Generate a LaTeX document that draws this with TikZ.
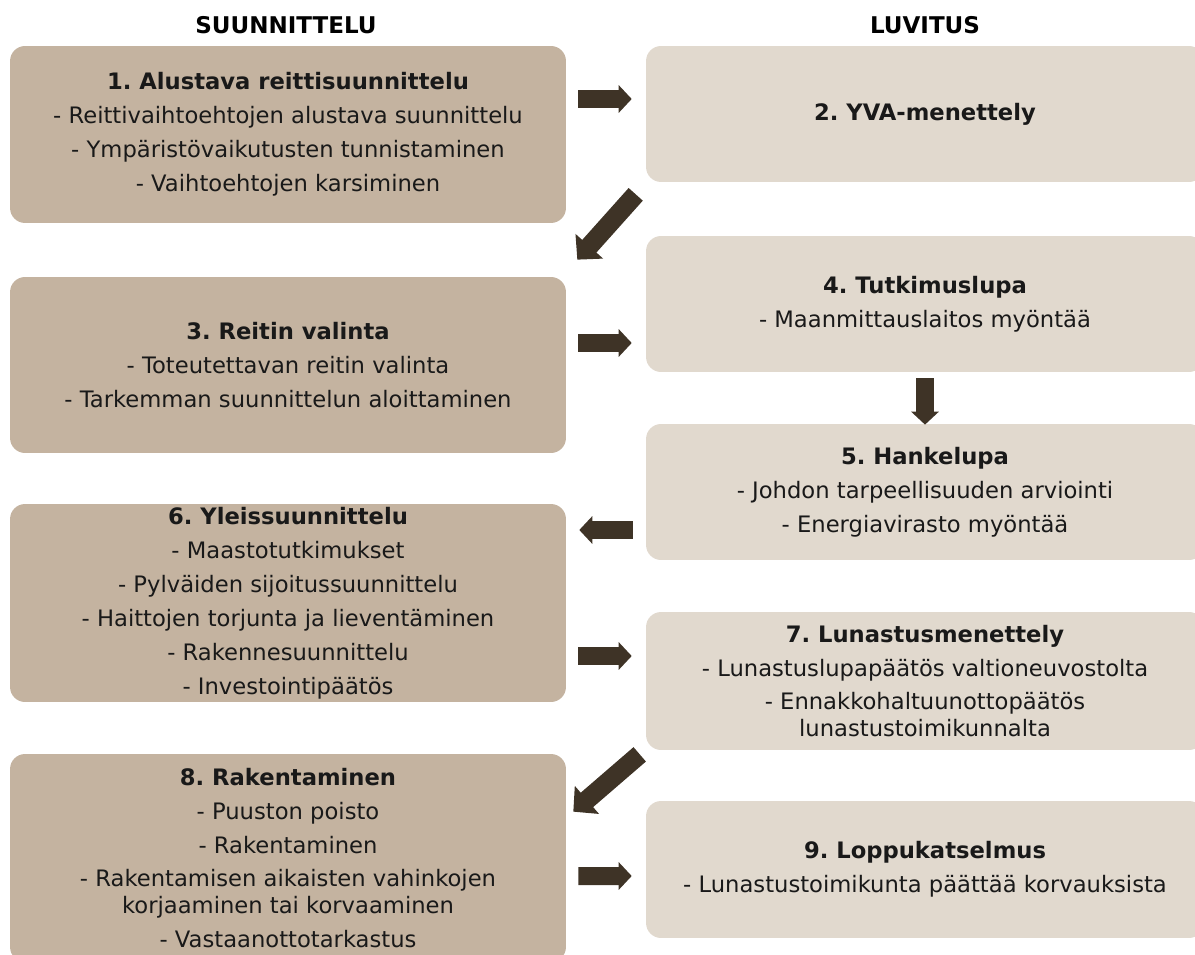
\documentclass[tikz,border=0pt]{standalone}
\usepackage{fontspec}
\setmainfont{DejaVu Sans}
\usetikzlibrary{arrows.meta,calc}
\definecolor{planbox}{HTML}{C4B3A0}
\definecolor{permitbox}{HTML}{E1D9CE}
\definecolor{arrowbrown}{HTML}{3E3326}
\frenchspacing

\begin{document}
\begin{tikzpicture}[x=0.02cm, y=-0.02cm,
	every box/.style={rounded corners=0.3cm, align=center, inner sep=0pt, text=black!90, font=\fontsize{12.9}{15.3}\selectfont},
	plan box/.style={every box, fill=planbox, minimum width=11.12cm},
	permit box/.style={every box, fill=permitbox, minimum width=11.16cm, minimum height=2.72cm},
	step arrow/.style={draw=arrowbrown, line width=0.36cm, -{Triangle[length=0.26cm, width=0.54cm]}},
	turn arrow/.style={draw=arrowbrown, line width=0.38cm, -{Triangle[length=0.36cm, width=0.72cm]}},
	column title/.style={font=\fontsize{13.1}{15}\selectfont\bfseries}]
		
		\useasboundingbox (0,0) rectangle (1195,955);
		\clip (0,0) rectangle (1195,955);
		
		\node [column title] (title-plan) at (286,25) {SUUNNITTELU};
		\node [column title] (title-permit) at (925,25) {LUVITUS};
		
		% suunnittelu
		\node [plan box, minimum height=3.54cm] (plan-1) at (288,134.5)
		{\textbf{1. Alustava reittisuunnittelu}\\[4pt]
			- Reittivaihtoehtojen alustava suunnittelu\\[4pt]
			- Ympäristövaikutusten tunnistaminen\\[4pt]
			- Vaihtoehtojen karsiminen};
		\node [plan box, minimum height=3.52cm] (plan-3) at (288,365)
		{\textbf{3. Reitin valinta}\\[4pt]
			- Toteutettavan reitin valinta\\[4pt]
			- Tarkemman suunnittelun aloittaminen};
		\node [plan box, minimum height=3.96cm] (plan-6) at (288,603)
		{\textbf{6. Yleissuunnittelu}\\[4pt]
			- Maastotutkimukset\\[4pt]
			- Pylväiden sijoitussuunnittelu\\[4pt]
			- Haittojen torjunta ja lieventäminen\\[4pt]
			- Rakennesuunnittelu\\[4pt]
			- Investointipäätös};
		\node [plan box, minimum height=4.16cm] (plan-8) at (288,858)
		{\textbf{8. Rakentaminen}\\[4pt]
			- Puuston poisto\\[4pt]
			- Rakentaminen\\[4pt]
			- Rakentamisen aikaisten vahinkojen\\
			korjaaminen tai korvaaminen\\[4pt]
			- Vastaanottotarkastus};
		
		% luvitus
		\node [permit box] (permit-2) at (925,114)
		{\textbf{2. YVA-menettely}};
		\node [permit box] (permit-4) at (925,304)
		{\textbf{4. Tutkimuslupa}\\[4pt]
			- Maanmittauslaitos myöntää};
		\node [permit box] (permit-5) at (925,492)
		{\textbf{5. Hankelupa}\\[4pt]
			- Johdon tarpeellisuuden arviointi\\[4pt]
			- Energiavirasto myöntää};
		\node [permit box, minimum height=2.76cm] (permit-7) at (925,681)
		{\textbf{7. Lunastusmenettely}\\[4pt]
			- Lunastuslupapäätös valtioneuvostolta\\[4pt]
			- Ennakkohaltuunottopäätös\\
			lunastustoimikunnalta};
		\node [permit box, minimum height=2.74cm] (permit-9) at (925,869.5)
		{\textbf{9. Loppukatselmus}\\[4pt]
			- Lunastustoimikunta päättää korvauksista};
		
		\draw [step arrow] ($(plan-1.east)+(12,-35.5)$) -- ($(permit-2.west)+(-14,-15)$);
		\draw [turn arrow] ($(permit-2.south west)+(-10,12)$) -- ($(plan-3.north east)+(11,-17)$);
		\draw [step arrow] ($(plan-3.east)+(12,-22)$) -- ($(permit-4.west)+(-14,39)$);
		\draw [step arrow] ($(permit-4.south)+(0,6)$) -- ($(permit-5.north)+(0,1)$);
		\draw [step arrow] ($(permit-5.west)+(-13,38)$) -- ($(plan-6.east)+(13,-73)$);
		\draw [step arrow] ($(plan-6.east)+(12,53)$) -- ($(permit-7.west)+(-14,-25)$);
		\draw [turn arrow] ($(permit-7.south west)+(-6,4)$) -- ($(plan-8.north east)+(7,58)$);
		\draw [step arrow] ($(plan-8.east)+(12,18)$) -- ($(permit-9.west)+(-14,6.5)$);

		\end{tikzpicture}
\end{document}
